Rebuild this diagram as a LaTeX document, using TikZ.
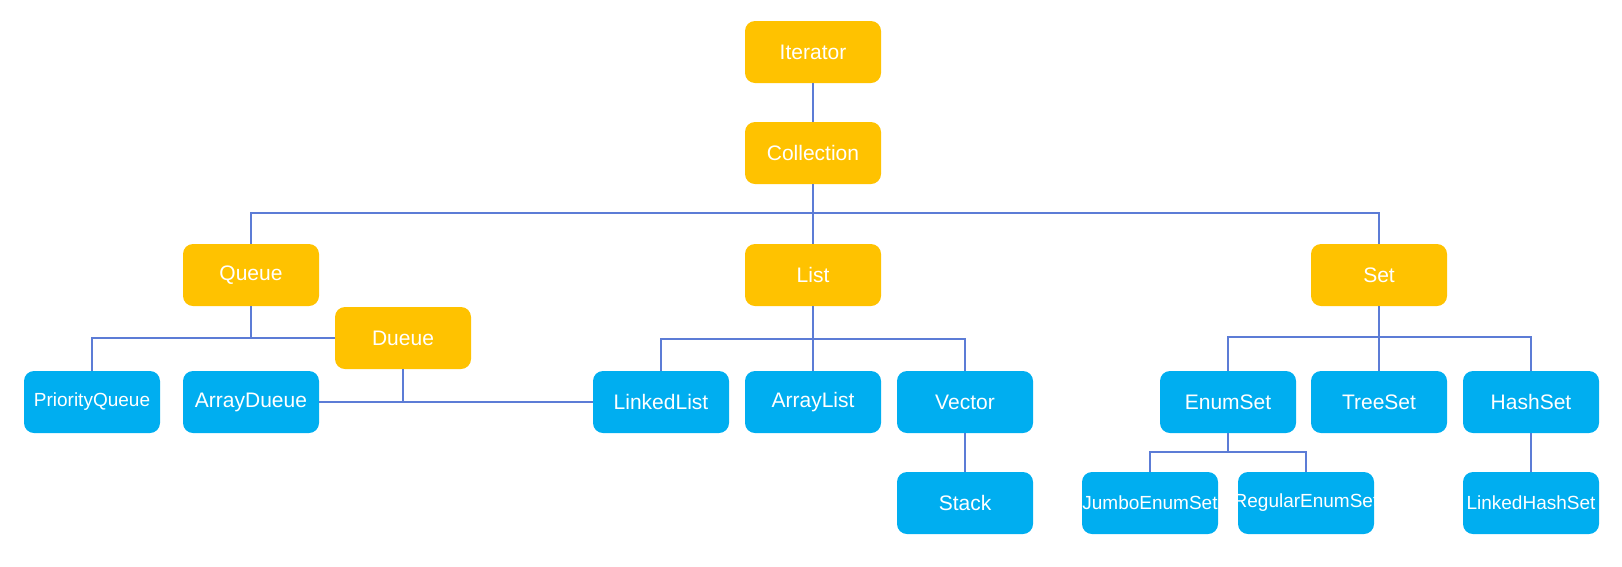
\documentclass[tikz,border=0pt]{standalone}
\usepackage{fontspec}
\setmainfont{Liberation Sans}
\definecolor{gold}{RGB}{255,194,0}
\definecolor{sky}{RGB}{0,174,240}
\definecolor{wire}{RGB}{92,124,214}
\begin{document}
\begin{tikzpicture}[x=1pt,y=-1pt,
  box/.style={rounded corners=10pt, minimum width=136pt, minimum height=62pt, inner sep=0pt, text=white, font=\fontsize{21}{25}\selectfont},
  iface/.style={box, fill=gold},
  cls/.style={box, fill=sky},
  small/.style={font=\fontsize{19}{23}\selectfont},
  wireline/.style={draw=wire, line width=1.4pt}]
\useasboundingbox (0,0) rectangle (1622,566);
% interfaces
\node[iface] (Iterator) at (813,52) {Iterator};
\node[iface] (Collection) at (813,153) {Collection};
\node[iface] (Queue) at (251,275) {Queue};
\node[iface] (List) at (813,275) {List};
\node[iface] (Set) at (1379,275) {Set};
\node[iface] (Dueue) at (403,338) {Dueue};
% classes
\node[cls,small] (PriorityQueue) at (92,402) {\makebox[0pt]{PriorityQueue}};
\node[cls] (ArrayDueue) at (251,402) {ArrayDueue};
\node[cls] (LinkedList) at (661,402) {LinkedList};
\node[cls] (ArrayList) at (813,402) {ArrayList};
\node[cls] (Vector) at (965,402) {Vector};
\node[cls] (Stack) at (965,503) {Stack};
\node[cls] (EnumSet) at (1228,402) {EnumSet};
\node[cls] (TreeSet) at (1379,402) {TreeSet};
\node[cls] (HashSet) at (1531,402) {HashSet};
\node[cls,small] (JumboEnumSet) at (1150,503) {\makebox[0pt]{JumboEnumSet}};
\node[cls,small] (RegularEnumSet) at (1306,503) {\makebox[0pt]{RegularEnumSet}};
\node[cls,small] (LinkedHashSet) at (1531,503) {\makebox[0pt]{LinkedHashSet}};
% junction coordinates
\coordinate (b0) at (813,213);
\coordinate (bq) at (251,338);
\coordinate (bd) at (403,402);
\coordinate (bl) at (813,339);
\coordinate (bs) at (1379,337);
\coordinate (be) at (1228,452);
% connectors
\begin{scope}[on background layer/.style={}]
\draw[wireline] (Iterator.south) -- (Collection.north);
\draw[wireline] (Collection.south) -- (b0);
\draw[wireline] (b0) -| (Queue.north);
\draw[wireline] (b0) -- (List.north);
\draw[wireline] (b0) -| (Set.north);
\draw[wireline] (Queue.south) -- (bq);
\draw[wireline] (bq) -| (PriorityQueue.north);
\draw[wireline] (bq) -- (Dueue.west);
\draw[wireline] (Dueue.south) -- (bd);
\draw[wireline] (bd) -- (ArrayDueue.east);
\draw[wireline] (bd) -- (LinkedList.west);
\draw[wireline] (List.south) -- (bl);
\draw[wireline] (bl) -| (LinkedList.north);
\draw[wireline] (bl) -- (ArrayList.north);
\draw[wireline] (bl) -| (Vector.north);
\draw[wireline] (Vector.south) -- (Stack.north);
\draw[wireline] (Set.south) -- (bs);
\draw[wireline] (bs) -| (EnumSet.north);
\draw[wireline] (bs) -- (TreeSet.north);
\draw[wireline] (bs) -| (HashSet.north);
\draw[wireline] (EnumSet.south) -- (be);
\draw[wireline] (be) -| (JumboEnumSet.north);
\draw[wireline] (be) -| (RegularEnumSet.north);
\draw[wireline] (HashSet.south) -- (LinkedHashSet.north);
\end{scope}
\end{tikzpicture}
\end{document}
